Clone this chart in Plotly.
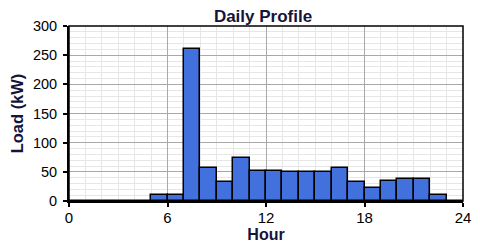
import plotly.graph_objects as go

hours = list(range(24))
load_kw = [0, 0, 0, 0, 0, 10, 10, 260, 56, 32, 74, 52, 52, 49, 49, 49, 56, 32, 22, 34, 38, 38, 11, 0]
x_ticks = [0, 6, 12, 18, 24]
y_ticks = [0, 50, 100, 150, 200, 250, 300]

fig = go.Figure()
fig.add_trace(go.Bar(
    x=[h + 0.5 for h in hours], y=load_kw, width=1,
    marker=dict(color="#4270dc", line=dict(color="black", width=1.5)),
))

font_fam = "Liberation Sans, Arial, sans-serif"
fig.update_layout(
    width=464, height=235,
    margin=dict(l=61, r=9, t=18, b=42, autoexpand=False),
    paper_bgcolor="white", plot_bgcolor="white",
    showlegend=False,
    title=dict(text="<b>Daily Profile</b>", x=0.5496, xanchor="center", y=1.0, yanchor="top",
               pad=dict(t=2, b=0, l=0, r=0),
               font=dict(family=font_fam, size=17, color="#14143c")),
    bargap=0,
    xaxis=dict(range=[0, 24], tickvals=x_ticks, ticks="outside", ticklen=4, tickwidth=1.5, tickcolor="black",
               showline=True, linecolor="black", linewidth=2, mirror=False, automargin=False,
               ticklabelstandoff=-2,
               showgrid=True, gridcolor="#a8a8a8", gridwidth=1.2,
               minor=dict(dtick=1, tick0=0, showgrid=True, gridcolor="#e6e6e6", gridwidth=1),
               tickfont=dict(family=font_fam, size=15, color="black"),
               title=dict(text="<b>Hour</b>", standoff=6, font=dict(family=font_fam, size=16, color="#14143c")),
               zeroline=False),
    yaxis=dict(range=[0, 300], tickvals=y_ticks, ticks="outside", ticklen=4, tickwidth=1.5, tickcolor="black",
               showline=True, linecolor="black", linewidth=2, mirror=False, automargin=False,
               ticklabelstandoff=3,
               showgrid=True, gridcolor="#a8a8a8", gridwidth=1.2,
               minor=dict(dtick=10, tick0=0, showgrid=True, gridcolor="#e6e6e6", gridwidth=1),
               tickfont=dict(family=font_fam, size=14.5, color="black"),
               title=dict(text="<b>Load (kW)</b>", standoff=5, font=dict(family=font_fam, size=16.5, color="#14143c")),
               zeroline=False),
)
fig.add_shape(type="rect", xref="paper", yref="paper", x0=0, y0=0, x1=1, y1=1,
              line=dict(color="black", width=1.5), layer="above")
fig.write_html("out.html")
